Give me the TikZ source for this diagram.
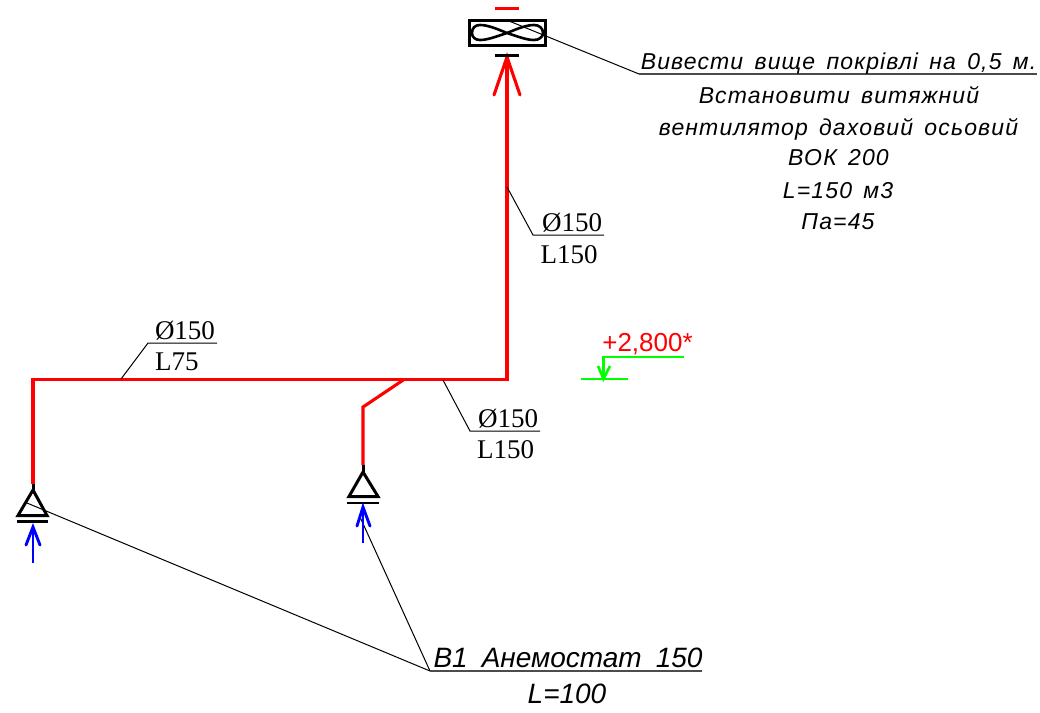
\documentclass[tikz,border=0pt]{standalone}
\usepackage{fontspec}
\setmainfont{Liberation Serif}
\newfontfamily\cadfont[LetterSpace=5,WordSpace=1.5]{Liberation Sans}
\newfontfamily\cadbigfont[LetterSpace=0,WordSpace=1.8]{Liberation Sans}
\newfontfamily\arialfont{Liberation Sans}
\definecolor{ductred}{RGB}{255,0,0}
\definecolor{airblue}{RGB}{0,0,255}
\definecolor{levelgreen}{RGB}{0,255,0}
\tikzset{
  duct/.style={draw=ductred,line width=3.1pt},
  sym/.style={draw=black,line width=3pt},
  symthin/.style={draw=black,line width=2.6pt},
  blueair/.style={draw=airblue,line width=2.9pt},
  leader/.style={draw=black,line width=1pt},
  shelf/.style={draw=black!70,line width=1.3pt},
  lvl/.style={draw=levelgreen,line width=2.6pt},
  dimtext/.style={font=\fontsize{27}{27}\selectfont,inner sep=0pt,anchor=base},
  cadtext/.style={font=\cadfont\itshape\fontsize{23}{23}\selectfont,inner sep=0pt,anchor=base},
  cadbig/.style={font=\cadbigfont\itshape\fontsize{28}{28}\selectfont,inner sep=0pt,anchor=base},
  eltext/.style={font=\arialfont\fontsize{26}{26}\selectfont,text=ductred,inner sep=0pt,anchor=base}
}
\begin{document}
\begin{tikzpicture}[x=1pt,y=-1pt]
\useasboundingbox (0,0) rectangle (1040,712);
% coordinates
\coordinate (top) at (507,57);
\coordinate (corner) at (507,379.5);
\coordinate (left) at (33,379.5);
\coordinate (leftEnd) at (33,484);
\coordinate (tee) at (404,379.5);
\coordinate (bend) at (363,407);
\coordinate (brEnd) at (363,465);
\coordinate (fanLead) at (509,21);
\coordinate (fanShelfL) at (639,74);
\coordinate (fanShelfR) at (1037,74);
\coordinate (anShelfL) at (430,671);
\coordinate (anShelfR) at (702,671);
\coordinate (la1) at (27,503);
\coordinate (la2) at (360,517);
% leaders
\draw[leader] (fanLead) -- (fanShelfL);
\draw[shelf] (fanShelfL) -- (fanShelfR);
\draw[leader] (la1) -- (anShelfL);
\draw[leader] (la2) -- (anShelfL);
\draw[shelf,line width=1.8pt] (anShelfL) -- (anShelfR);
% ducts
\draw[duct,line join=miter] (leftEnd) -- (left) -- (corner) -- (top);
\draw[duct,line join=miter] (tee) -- (bend) -- (brEnd);
\coordinate (h1) at (494,95); \coordinate (h2) at (520,95);
\draw[duct,line cap=round] (h1) -- (top) -- (h2);
% fan
\draw[sym,line join=miter] (469,20) rectangle (545,45);
\draw[symthin] (507,33) .. controls (495,28) and (487,25) .. (480,25)
  .. controls (475,25) and (472,28) .. (472,33)
  .. controls (472,37) and (475,40) .. (480,40)
  .. controls (487,40) and (495,37) .. (507,33)
  .. controls (519,28) and (527,25) .. (534,25)
  .. controls (539,25) and (543,28) .. (543,33)
  .. controls (543,37) and (539,40) .. (534,40)
  .. controls (527,40) and (519,37) .. (507,33) -- cycle;
\coordinate (rd1) at (495,8); \coordinate (rd2) at (519,8);
\draw[draw=ductred,line width=3pt] (rd1) -- (rd2);
\coordinate (bd1) at (495,55.5); \coordinate (bd2) at (519,55.5);
\draw[symthin] (bd1) -- (bd2);
% left diffuser
\coordinate (aA) at (33,490); \coordinate (aB) at (18,515.5); \coordinate (aC) at (47,515.5);
\draw[sym,line join=miter] (aA) -- (aB) -- (aC) -- cycle;
\draw[sym] (leftEnd) -- (aA);
\coordinate (aD) at (17,521.5); \coordinate (aE) at (48,521.5);
\draw[symthin] (aD) -- (aE);
\coordinate (ab0) at (33,563); \coordinate (abT) at (33,527); \coordinate (ab1) at (26,545); \coordinate (ab2) at (40,545);
\draw[blueair] (ab0) -- (abT);
\draw[blueair,line cap=round] (ab1) -- (abT) -- (ab2);
% branch diffuser
\coordinate (bA) at (363,472); \coordinate (bB) at (349,496.5); \coordinate (bC) at (378,496.5);
\draw[sym,line join=miter] (bA) -- (bB) -- (bC) -- cycle;
\draw[sym] (brEnd) -- (bA);
\coordinate (bD) at (347,503); \coordinate (bE) at (379,503);
\draw[symthin] (bD) -- (bE);
\coordinate (bb0) at (363,543); \coordinate (bbT) at (363,507); \coordinate (bb1) at (357,526); \coordinate (bb2) at (370,526);
\draw[blueair] (bb0) -- (bbT);
\draw[blueair,line cap=round] (bb1) -- (bbT) -- (bb2);
% duct labels
\coordinate (d1a) at (507,187); \coordinate (d1b) at (533,235); \coordinate (d1c) at (604,235);
\draw[leader] (d1a) -- (d1b) -- (d1c);
\node[dimtext] (t1a) at (572,231) {Ø150};
\node[dimtext] (t1b) at (569,263) {L150};
\coordinate (d2a) at (121,379); \coordinate (d2b) at (148,343); \coordinate (d2c) at (217,343);
\draw[leader] (d2a) -- (d2b) -- (d2c);
\node[dimtext] (t2a) at (185,339) {Ø150};
\node[dimtext,anchor=base west] (t2b) at (155,370) {L75};
\coordinate (d3a) at (443,380); \coordinate (d3b) at (470,431); \coordinate (d3c) at (540,431);
\draw[leader] (d3a) -- (d3b) -- (d3c);
\node[dimtext] (t3a) at (508,427) {Ø150};
\node[dimtext] (t3b) at (505.5,458) {L150};
% level mark
\coordinate (e1) at (683.5,357); \coordinate (e2) at (603.5,357); \coordinate (e3) at (603.5,379);
\coordinate (e4) at (581,379); \coordinate (e5) at (627.5,379);
\coordinate (e6) at (598,366); \coordinate (e7) at (610,366);
\draw[lvl,line join=miter] (e1) -- (e2) -- (e3);
\draw[lvl] (e4) -- (e5);
\draw[lvl] (e6) -- (e3) -- (e7);
\node[eltext] (elev) at (647.5,351) {+2,800*};
% notes
\node[cadtext] (n1) at (838.5,69.5) {Вивести вище покрівлі на 0,5 м.};
\node[cadtext] (n2) at (839,103) {Встановити витяжний};
\node[cadtext] (n3) at (838.5,135) {вентилятор даховий осьовий};
\node[cadtext] (n4) at (838.5,165.5) {ВОК 200};
\node[cadtext] (n5) at (838,198) {L=150 м3};
\node[cadtext] (n6) at (838,229) {Па=45};
\node[cadbig] (n7) at (568,667) {В1 Анемостат 150};
\node[cadbig] (n8) at (567,703) {L=100};
\end{tikzpicture}
\end{document}
